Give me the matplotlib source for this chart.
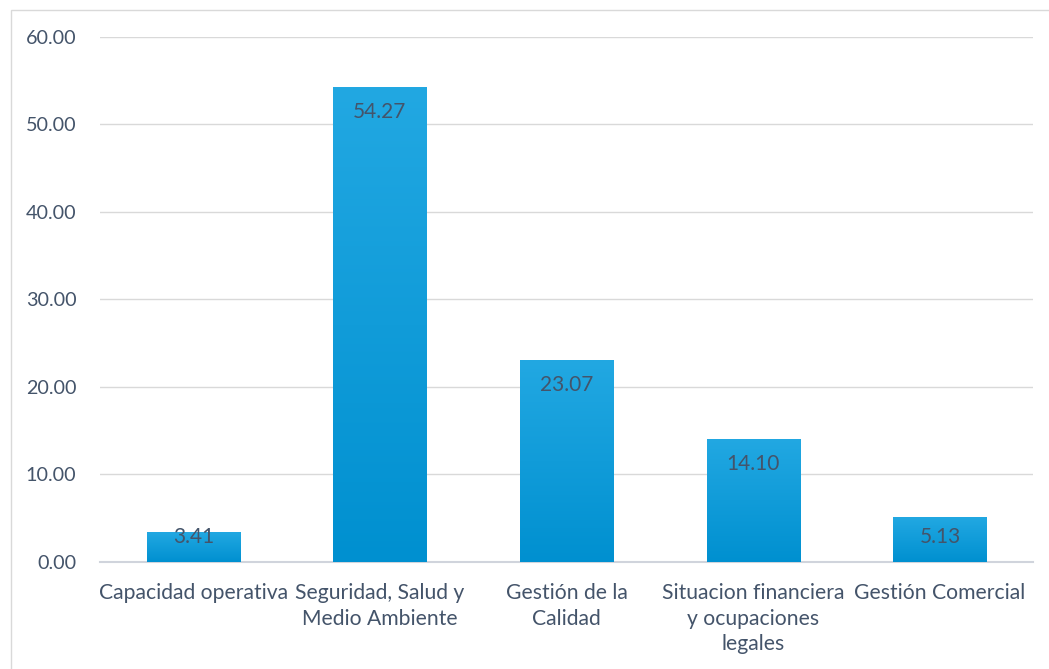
import matplotlib
matplotlib.use("Agg")
import matplotlib.pyplot as plt
import numpy as np
from matplotlib.patches import Rectangle
from matplotlib.colors import LinearSegmentedColormap

categories = ["Capacidad operativa", "Seguridad, Salud y\nMedio Ambiente", "Gestión de la\nCalidad",
              "Situacion financiera\ny ocupaciones\nlegales", "Gestión Comercial"]
values = [3.41, 54.27, 23.07, 14.10, 5.13]
yticks = [0, 10, 20, 30, 40, 50, 60]

plt.rcParams['font.family'] = ['Lato', 'DejaVu Sans']
text_color = '#44546A'

fig = plt.figure(figsize=(10.49, 6.69), dpi=100)
ax = fig.add_axes([0.0953, 0.160, 0.8897, 0.7847])

x = np.arange(len(values))
bars = ax.bar(x, values, width=0.5, color='none', zorder=3)
cmap = LinearSegmentedColormap.from_list('g', ['#0090D0', '#22A8E2'])
grad = np.linspace(0, 1, 256).reshape(-1, 1)
for b in bars:
    x0, y0 = b.get_x(), b.get_y()
    w, h = b.get_width(), b.get_height()
    im = ax.imshow(grad, extent=[x0, x0 + w, y0, y0 + h], origin='lower', cmap=cmap,
                   aspect='auto', zorder=3)
    im.set_clip_path(b)

ax.set_xlim(-0.5, len(values) - 0.5)
ax.set_ylim(0, 60)
ax.set_yticks(yticks)
ax.set_yticklabels([f"{v:.2f}" for v in yticks], fontsize=14.2)
ax.set_xticks(x)
ax.set_xticklabels(categories, linespacing=1.36, fontsize=15.2)
ax.tick_params(axis='both', length=0, colors=text_color)
ax.tick_params(axis='y', pad=17)
ax.tick_params(axis='x', pad=15)
ax.grid(axis='y', color='#D9D9D9', linewidth=1, zorder=0)
for s in ['top', 'right', 'left']:
    ax.spines[s].set_visible(False)
ax.spines['bottom'].set_color('#D0D4DC')
ax.spines['bottom'].set_linewidth(1.5)

off = 2.86
for xi, v in zip(x, values):
    ax.text(xi, max(v - off, off), f"{v:.2f}", ha='center', va='center',
            fontsize=15, color=text_color, zorder=5)

fig.patches.append(Rectangle((0.0105, -0.01), 1.0, 0.995, transform=fig.transFigure,
                             fill=False, edgecolor='#D9D9D9', linewidth=1))
fig.savefig('out.png', dpi=100)
